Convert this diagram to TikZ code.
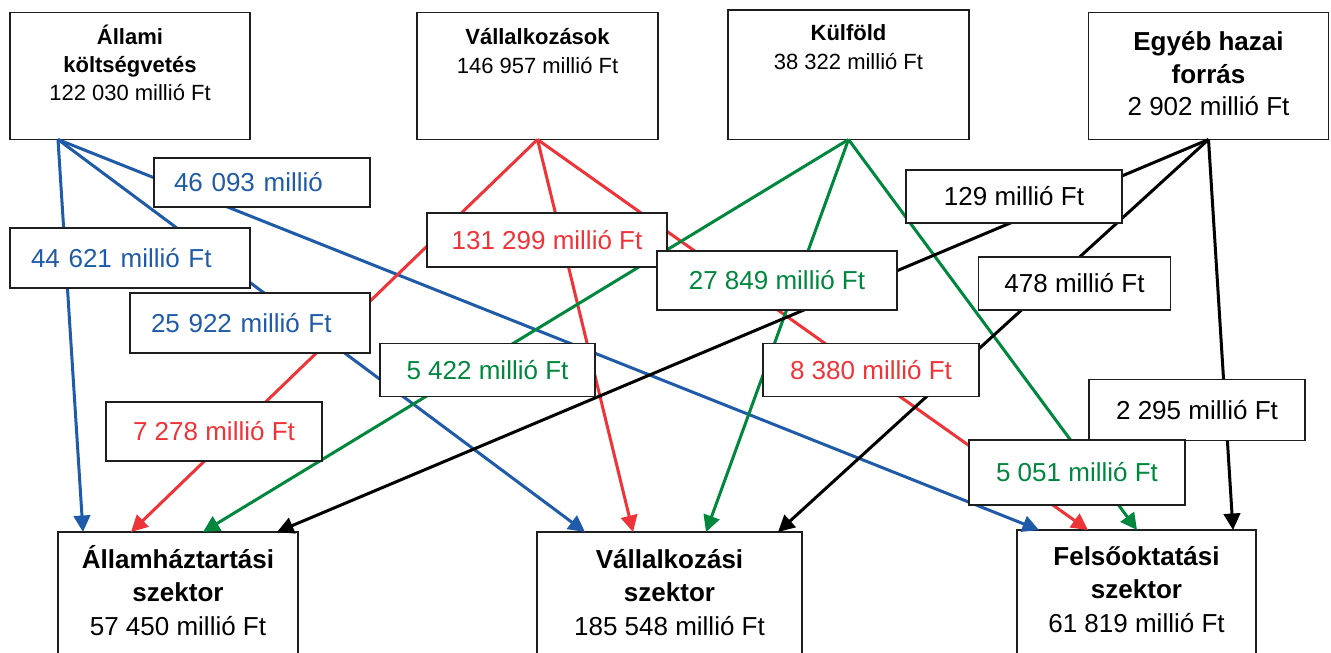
\documentclass[tikz,border=0pt]{standalone}
\usepackage{fontspec}
\setmainfont{Liberation Sans}
\usetikzlibrary{arrows.meta}
\definecolor{cblue}{RGB}{31,91,168}
\definecolor{cred}{RGB}{238,52,56}
\definecolor{cgreen}{RGB}{0,135,62}
\definecolor{cframe}{RGB}{30,30,30}
\tikzset{
  srcbox/.style={draw=cframe, line width=1.6pt, fill=white, minimum width=240pt, minimum height=127pt, anchor=north west, inner sep=0pt, outer sep=0pt},
  lbl/.style={draw=cframe, line width=1.6pt, fill=white, anchor=north west, inner sep=0pt, outer sep=0pt, font=\fontsize{26}{30}\selectfont},
  smtxt/.style={font=\fontsize{22}{26}\selectfont, anchor=base, inner sep=0pt},
  smbold/.style={font=\fontsize{22}{26}\selectfont\bfseries, anchor=base, inner sep=0pt},
  bgtxt/.style={font=\fontsize{26}{30}\selectfont, anchor=base, inner sep=0pt},
  bgbold/.style={font=\fontsize{26}{30}\selectfont\bfseries, anchor=base, inner sep=0pt},
  flow/.style={line width=3pt, -{Triangle[length=16.5pt,width=16.5pt]}},
}
\begin{document}
\begin{tikzpicture}[x=1pt,y=-1pt]
\useasboundingbox (0,0) rectangle (1331,653);
\clip (0,0) rectangle (1331,653);
\fill[white] (0,0) rectangle (1331,653);

% source boxes
\node[srcbox] (allami) at (10,12.5) {};
\node[srcbox, minimum width=241pt] (vallalk) at (417,12.5) {};
\node[srcbox, minimum width=241pt, minimum height=129.5pt] (kulfold) at (728,10) {};
\node[srcbox] (egyeb) at (1088.5,12.5) {};

% target boxes
\node[srcbox, minimum height=150pt] (aht) at (58,532) {};
\node[srcbox, minimum width=265pt, minimum height=150pt] (vszek) at (537,532) {};
\node[srcbox, minimum width=239pt, minimum height=150pt] (fszek) at (1017,530) {};

% texts of source boxes
\node[smbold] (allamiA) at (130,44) {Állami};
\node[smbold] (allamiB) at (130,72) {költségvetés};
\node[smtxt] (allamiC) at (130,100.5) {122 030 millió Ft};
\node[smbold] (vallalkA) at (537.5,44.3) {Vállalkozások};
\node[smtxt] (vallalkB) at (537.5,73.3) {146 957 millió Ft};
\node[smbold] (kulfoldA) at (848.5,40.5) {Külföld};
\node[smtxt] (kulfoldB) at (848.5,69.5) {38 322 millió Ft};
\node[bgbold] (egyebA) at (1208.5,50.5) {Egyéb hazai};
\node[bgbold] (egyebB) at (1208.5,83) {forrás};
\node[bgtxt] (egyebC) at (1208.5,115.5) {2 902 millió Ft};

% texts of target boxes
\node[bgbold] (ahtA) at (178,568) {Államháztartási};
\node[bgbold] (ahtB) at (178,601.5) {szektor};
\node[bgtxt] (ahtC) at (178,635) {57 450 millió Ft};
\node[bgbold] (vszekA) at (669.5,568) {Vállalkozási};
\node[bgbold] (vszekB) at (669.5,601.5) {szektor};
\node[bgtxt] (vszekC) at (669.5,635) {185 548 millió Ft};
\node[bgbold] (fszekA) at (1136.5,565) {Felsőoktatási};
\node[bgbold] (fszekB) at (1136.5,598.5) {szektor};
\node[bgtxt] (fszekC) at (1136.5,632) {61 819 millió Ft};

% flows: Állami költségvetés
\draw[flow, cblue] ([xshift=48pt]allami.south west) -- ([xshift=25pt]aht.north west);
\draw[flow, cblue] ([xshift=48pt]allami.south west) -- ([xshift=48pt]vszek.north west);
\draw[flow, cblue] ([xshift=48pt]allami.south west) -- ([xshift=22pt]fszek.north west);
% flows: Vállalkozások
\draw[flow, cred] (vallalk.south) -- ([xshift=73pt]aht.north west);
\draw[flow, cred] (vallalk.south) -- ([xshift=96pt]vszek.north west);
\draw[flow, cred] (vallalk.south) -- ([xshift=71pt]fszek.north west);
% flows: Külföld
\draw[flow, cgreen] (kulfold.south) -- ([xshift=145pt]aht.north west);
\draw[flow, cgreen] (kulfold.south) -- ([xshift=169pt]vszek.north west);
\draw[flow, cgreen] (kulfold.south) -- ([xshift=120pt]fszek.north west);
% flows: Egyéb hazai forrás
\draw[flow, black] (egyeb.south) -- ([xshift=219pt]aht.north west);
\draw[flow, black] (egyeb.south) -- ([xshift=241pt]vszek.north west);
\draw[flow, black] (egyeb.south) -- ([xshift=216pt]fszek.north west);

% value labels
\node[lbl, inner xsep=20pt, text width=176pt, align=left, minimum height=49pt, text=cblue] (l46) at (154,158) {46 093 millió};
\node[lbl, inner xsep=21pt, text width=198pt, align=left, minimum height=60pt, text=cblue] (l44) at (10,228) {44 621 millió Ft};
\node[lbl, inner xsep=21pt, text width=198pt, align=left, minimum height=60pt, text=cblue] (l25) at (130,293) {25 922 millió Ft};
\node[lbl, minimum width=240pt, minimum height=54pt, text=cred] (l131) at (427,213) {131 299 millió Ft};
\node[lbl, minimum width=240pt, minimum height=59pt, text=cgreen] (l27) at (657,251) {27 849 millió Ft};
\node[lbl, minimum width=215pt, minimum height=53pt, text=cgreen] (l5422) at (380,343.5) {5 422 millió Ft};
\node[lbl, minimum width=216pt, minimum height=53pt, text=cred] (l8380) at (763,343.5) {8 380 millió Ft};
\node[lbl, minimum width=216pt, minimum height=59pt, text=cred] (l7278) at (106,402) {7 278 millió Ft};
\node[lbl, minimum width=216pt, minimum height=53pt] (l129) at (906,170) {129 millió Ft};
\node[lbl, minimum width=192pt, minimum height=53pt] (l478) at (978.5,257) {478 millió Ft};
\node[lbl, minimum width=216pt, minimum height=61pt] (l2295) at (1089,379.5) {2 295 millió Ft};
\node[lbl, minimum width=216pt, minimum height=65pt, text=cgreen] (l5051) at (969,440) {5 051 millió Ft};
\end{tikzpicture}
\end{document}
